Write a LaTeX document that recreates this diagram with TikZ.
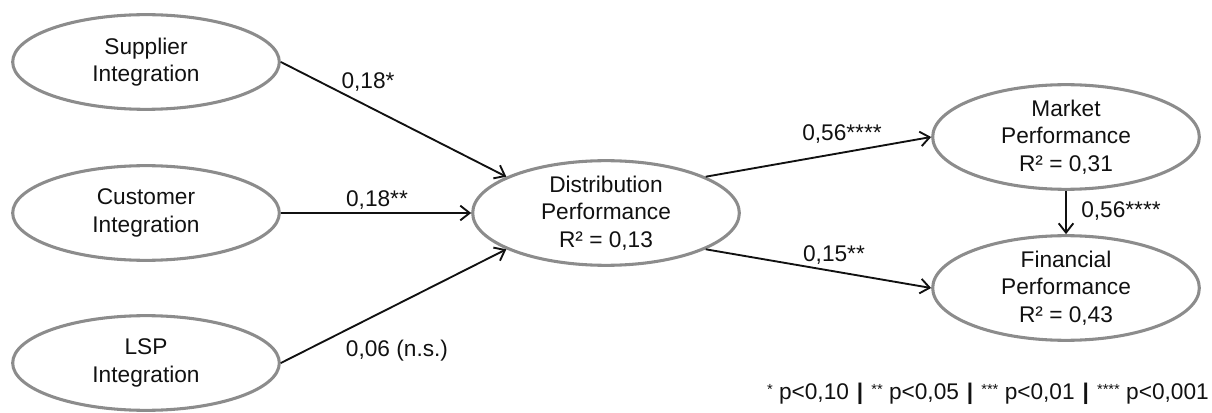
\documentclass[tikz,border=0pt]{standalone}
\usepackage{fontspec}
\setmainfont{Liberation Sans}
\usepackage{tikz}
\usetikzlibrary{arrows.meta,shapes.geometric}
\definecolor{cRing}{HTML}{8C8C8C}
\definecolor{cInk}{HTML}{111111}
\newcommand{\smstar}[1]{\raisebox{4pt}{\fontsize{11}{11}\selectfont #1}}
\newcommand{\keybar}{\hspace{6pt}\textbf{|}\hspace{6pt}}
\tikzset{
  lat/.style={ellipse,draw=cRing,line width=2.3pt,minimum width=200pt,minimum height=71pt,inner sep=0pt,align=center,font=\fontsize{17}{20.5}\selectfont,text=cInk},
  arr/.style={-{Straight Barb[length=7pt,width=11pt]},line width=1.4pt,color=cInk},
  wt/.style={font=\fontsize{17}{20.5}\selectfont,text=cInk,inner sep=0pt},
}

\begin{document}
\begin{tikzpicture}[x=0.75pt,y=-0.75pt]
  \useasboundingbox (0,0) rectangle (1212,413);
  % constructs
  \foreach \n/\y/\t in {sup/62/Supplier,cus/213/Customer,lsp/363/LSP}
    \node[lat] (\n) at (146,\y) {\t\\Integration};
  \node[lat] (dist) at (606,213) {Distribution\\Performance\\R² = 0,13};
  \node[lat] (mkt) at (1066,137) {Market\\Performance\\R² = 0,31};
  \node[lat] (fin) at (1066,288) {Financial\\Performance\\R² = 0,43};
  % paths
  \draw[arr] (sup.east) -- (dist.160);
  \draw[arr] (cus.east) -- (dist.west);
  \draw[arr] (lsp.east) -- (dist.200);
  \draw[arr] (dist.20) -- (mkt.west);
  \draw[arr] (dist.-20) -- (fin.west);
  \draw[arr] (mkt.south) -- (fin.north);
  % path coefficients
  \node[wt] (w1) at (368,82) {0,18*};
  \node[wt] (w2) at (377,200) {0,18**};
  \node[wt] (w3) at (397,351) {0,06 (n.s.)};
  \node[wt] (w4) at (842,134) {0,56****};
  \node[wt] (w5) at (834,255) {0,15**};
  \node[wt] (w6) at (1121,211) {0,56****};
  \node[wt,anchor=east] (key) at (1209,394) {\smstar{*} p<0,10\keybar\smstar{**} p<0,05\keybar\smstar{***} p<0,01\keybar\smstar{****} p<0,001};
\end{tikzpicture}
\end{document}
